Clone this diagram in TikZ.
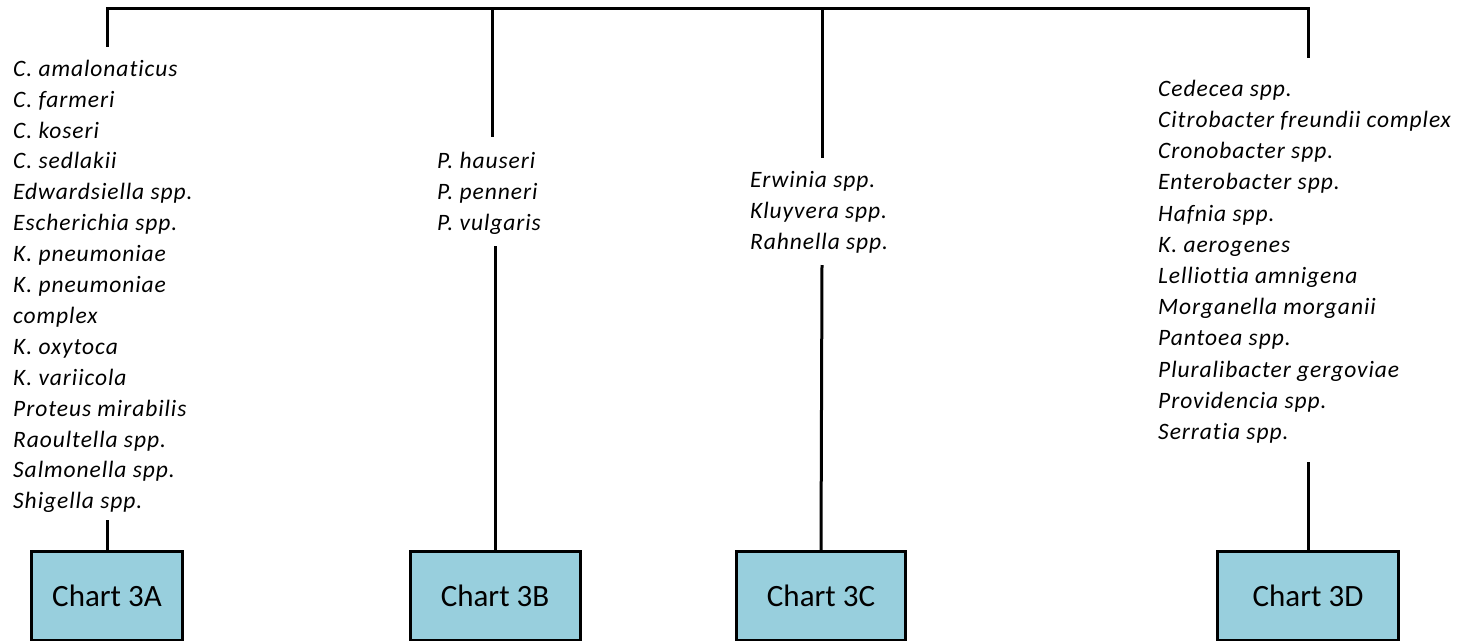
\documentclass[tikz,border=0pt]{standalone}
\usepackage{fontspec}
\setmainfont{Carlito}
\newfontfamily\listfont[LetterSpace=4,Ligatures=NoCommon]{Carlito}
\definecolor{chartfill}{RGB}{152,207,221}
\begin{document}
\begin{tikzpicture}[x=1pt,y=-1pt,
  link/.style={line width=3pt},
  species/.style={anchor=north west,inner sep=0pt,align=left,
    font=\listfont\fontsize{23.5}{#1}\selectfont\itshape},
  chartbox/.style={draw,line width=3pt,fill=chartfill,minimum height=89pt,
    inner sep=0pt,anchor=north,font=\fontsize{31}{37}\selectfont}]
\useasboundingbox (0,0) rectangle (1462,640);

% horizontal bar
\coordinate (ta) at (107,8);
\coordinate (tb) at (492,8);
\coordinate (tc) at (822,8);
\coordinate (td) at (1308,8);
\draw[link,line cap=rect] (ta) -- (td);

% species lists (north = first baseline - 0.7 baselineskip)
\node[species=30.9] (la) at (13,54.4) {\strut C. amalonaticus\\C. farmeri\\C. koseri\\C. sedlakii\\Edwardsiella spp.\\Escherichia spp.\\K. pneumoniae\\K. pneumoniae\\complex\\K. oxytoca\\K. variicola\\Proteus mirabilis\\Raoultella spp.\\Salmonella spp.\\Shigella spp.};
\node[species=31] (lb) at (437,146.8) {\strut P. hauseri\\P. penneri\\P. vulgaris};
\node[species=31] (lc) at (750,165.8) {\strut Erwinia spp.\\Kluyvera spp.\\Rahnella spp.};
\node[species=31.2] (ld) at (1158,74.2) {\strut Cedecea spp.\\Citrobacter freundii complex\\Cronobacter spp.\\Enterobacter spp.\\Hafnia spp.\\K. aerogenes\\Lelliottia amnigena\\Morganella morganii\\Pantoea spp.\\Pluralibacter gergoviae\\Providencia spp.\\Serratia spp.};

% chart boxes
\node[chartbox,minimum width=151pt] (ca) at (107,550) {Chart 3A};
\node[chartbox,minimum width=170pt] (cb) at (495,550) {Chart 3B};
\node[chartbox,minimum width=169pt] (cc) at (821,550) {Chart 3C};
\node[chartbox,minimum width=181pt] (cd) at (1308,550) {Chart 3D};

% connector ends around the lists
\coordinate (ea) at (107,47);
\coordinate (eb) at (492,137);
\coordinate (ec) at (822,158);
\coordinate (ed) at (1308,58);
\coordinate (sa) at (107,520);
\coordinate (sb) at (495,246);
\coordinate (sc) at (822,265);
\coordinate (sd) at (1308,462);

\draw[link] (ta) -- (ea);
\draw[link] (tb) -- (eb);
\draw[link] (tc) -- (ec);
\draw[link] (td) -- (ed);
\draw[link] (sa) -- (ca.north);
\draw[link] (sb) -- (cb.north);
\draw[link] (sc) -- (cc.north);
\draw[link] (sd) -- (cd.north);
\end{tikzpicture}
\end{document}
